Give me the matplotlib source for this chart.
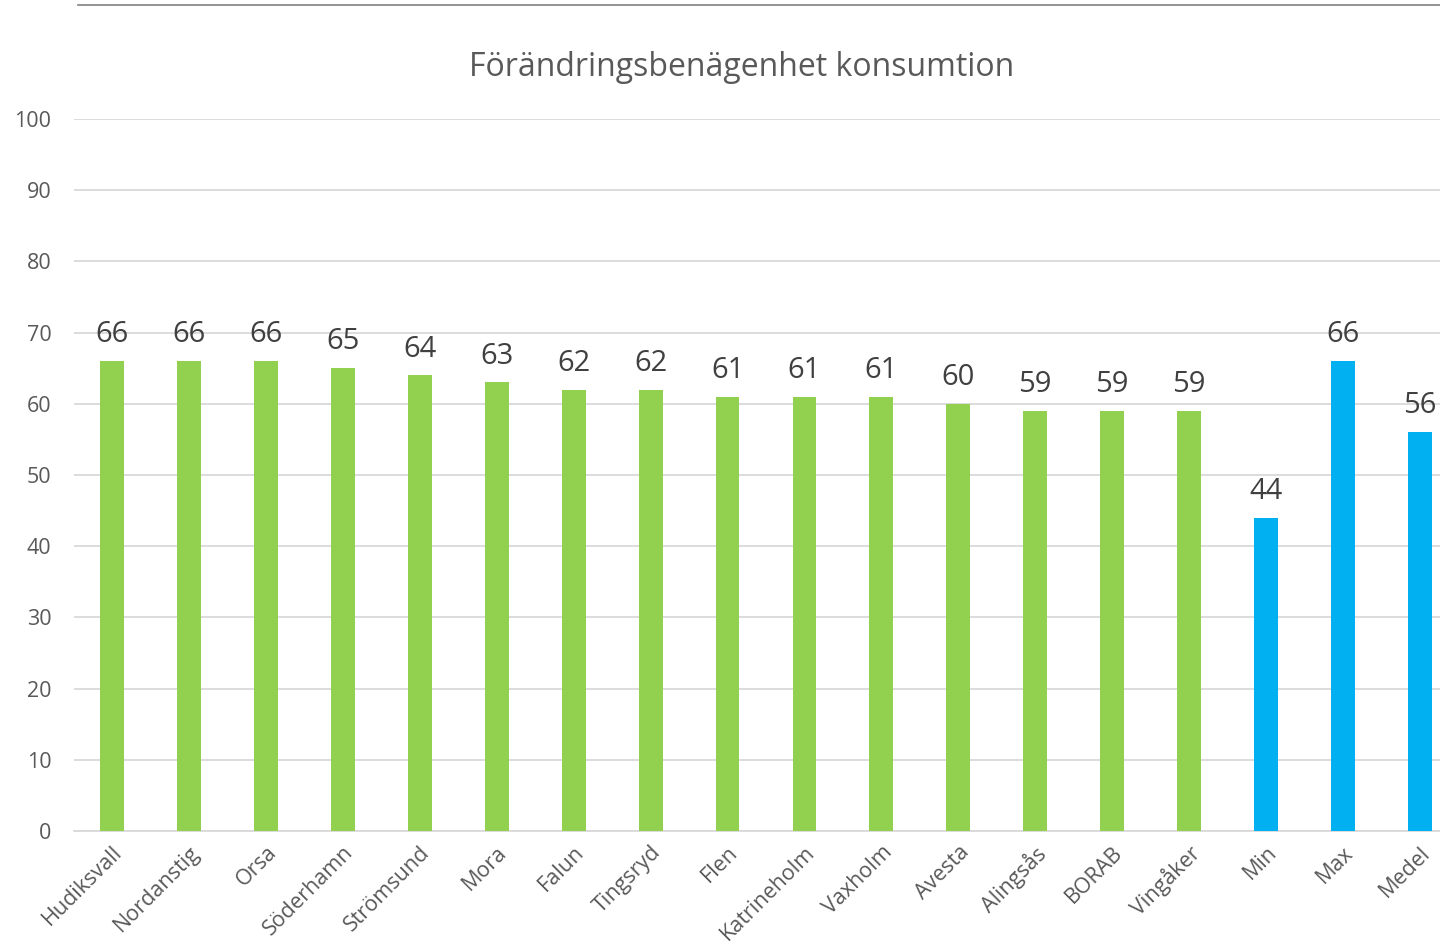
import matplotlib
matplotlib.use("Agg")
import matplotlib.pyplot as plt
from matplotlib.lines import Line2D

categories = ["Hudiksvall", "Nordanstig", "Orsa", "Söderhamn", "Strömsund", "Mora",
              "Falun", "Tingsryd", "Flen", "Katrineholm", "Vaxholm", "Avesta",
              "Alingsås", "BORAB", "Vingåker", "Min", "Max", "Medel"]
values = [66, 66, 66, 65, 64, 63, 62, 62, 61, 61, 61, 60, 59, 59, 59, 44, 66, 56]
labels = ["66", "66", "66", "65", "64", "63", "62", "62", "61", "61", "61", "60",
          "59", "59", "59", "44", "66", "56"]
groups = ["k"] * 15 + ["s"] * 3
yticks = [0, 10, 20, 30, 40, 50, 60, 70, 80, 90, 100]
title = "Förändringsbenägenhet konsumtion"

colors = {"k": "#92D050", "s": "#00B0F0"}

plt.rcParams['font.family'] = ['Open Sans', 'DejaVu Sans']

W, H = 1440, 946
fig = plt.figure(figsize=(W / 100, H / 100), dpi=100)
left_px, right_px = 73.5, 1458.5
top_px, bot_px = 119, 831
ax = fig.add_axes([left_px / W, 1 - bot_px / H, (right_px - left_px) / W, (bot_px - top_px) / H])

x = list(range(len(categories)))
ax.bar(x, values, width=0.31, color=[colors[g] for g in groups], zorder=3)
for xi, v, lab in zip(x, values, labels):
    ax.annotate(lab, (xi, v), xytext=(0, 8.5), textcoords="offset points",
                ha="center", va="bottom", fontsize=21, color="#404040")

ax.set_xlim(-0.5, len(categories) - 0.5)
ax.set_ylim(0, 100)
ax.set_yticks(yticks)
ax.set_yticklabels([str(t) for t in yticks], fontsize=15.5, color="#595959")
ax.yaxis.grid(True, color="#D9D9D9", linewidth=1.3, zorder=0)
ax.set_axisbelow(True)
ax.tick_params(axis="y", length=0, pad=16)
ax.tick_params(axis="x", length=0, pad=8)
ax.set_xticks(x)
ax.set_xticklabels(categories, rotation=45, ha="right", va="top", rotation_mode="anchor",
                   fontsize=15.5, color="#595959")
for s in ["top", "right", "left"]:
    ax.spines[s].set_visible(False)
ax.spines["bottom"].set_color("#D9D9D9")
ax.spines["bottom"].set_linewidth(1.3)

fig.text(742 / W, 1 - 67 / H, title, ha="center", va="center", fontsize=23, color="#595959")

fig.add_artist(Line2D([78 / W, 1.0], [1 - 5 / H, 1 - 5 / H], color="#808080", linewidth=1.2))

fig.savefig("out.png", dpi=100)
